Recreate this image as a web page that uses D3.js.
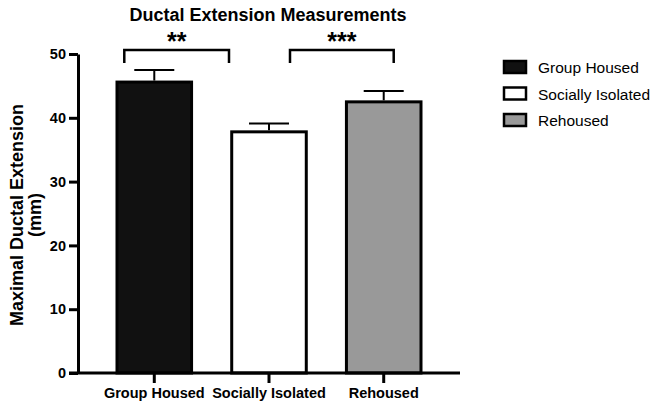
<!DOCTYPE html>
<html><head><meta charset="utf-8">
<script src="https://cdn.jsdelivr.net/npm/d3@7"></script>
<style>body{margin:0;background:#fff}svg{display:block;font-family:"Liberation Sans",Arial,sans-serif}</style>
</head><body><svg id="c" width="650" height="404"></svg>
<script>
const categories = ["Group Housed", "Socially Isolated", "Rehoused"];
const means = [45.6, 37.8, 42.5];
const sems = [1.9, 1.3, 1.7];
const fills = ["#111111", "#ffffff", "#999999"];
const yTicks = [0, 10, 20, 30, 40, 50];
const comparisons = [
  {from: 0, to: 1, label: "**"},
  {from: 1, to: 2, label: "***"}
];

const svg = d3.select("#c");
const x = d3.scaleBand().domain(categories).range([78, 460]).paddingInner(0.35).paddingOuter(0.34);
const y = d3.scaleLinear().domain([0, 50]).range([373, 54]);

// bars
svg.append("g").selectAll("rect").data(categories).join("rect")
  .attr("x", d => x(d)).attr("width", x.bandwidth())
  .attr("y", (d, i) => y(means[i])).attr("height", (d, i) => y(0) - y(means[i]))
  .attr("fill", (d, i) => fills[i]).attr("stroke", "#000").attr("stroke-width", 3);

// error bars
const eb = svg.append("g").attr("stroke", "#000").attr("stroke-width", 2);
categories.forEach((d, i) => {
  const cx = x(d) + x.bandwidth() / 2;
  eb.append("line").attr("x1", cx).attr("x2", cx).attr("y1", y(means[i]) - 1.5).attr("y2", y(means[i] + sems[i]));
  eb.append("line").attr("x1", cx - 20).attr("x2", cx + 20).attr("y1", y(means[i] + sems[i])).attr("y2", y(means[i] + sems[i]));
});

// axes
const yAxis = svg.append("g").attr("transform", "translate(78,0)")
  .call(d3.axisLeft(y).tickValues(yTicks).tickSize(9).tickSizeOuter(0).tickPadding(3));
const xAxis = svg.append("g").attr("transform", "translate(0,373)")
  .call(d3.axisBottom(x).tickSize(10).tickSizeOuter(0).tickPadding(5));
[yAxis, xAxis].forEach(g => {
  g.select(".domain").attr("stroke", "#000").attr("stroke-width", 3);
  g.selectAll(".tick line").attr("stroke", "#000").attr("stroke-width", 3);
  g.selectAll("text").attr("fill", "#000").attr("font-size", 14).attr("font-weight", "bold")
    .attr("font-family", "Liberation Sans, Arial, sans-serif");
});
yAxis.selectAll(".tick text").attr("font-size", 14.5);
xAxis.select(".domain").attr("d", "M69,0H460");
xAxis.selectAll(".tick text").attr("y", 25).attr("dy", 0).attr("font-size", 14.5);

// y label
const yl = svg.append("text").attr("transform", "translate(23,215) rotate(-90)")
  .attr("text-anchor", "middle").attr("font-size", 18).attr("font-weight", "bold");
yl.append("tspan").attr("x", 0).attr("dy", 0).text("Maximal Ductal Extension");
yl.append("tspan").attr("x", 0).attr("dy", 18).text("(mm)");

// title
svg.append("text").attr("x", 268).attr("y", 21).attr("text-anchor", "middle")
  .attr("font-size", 18).attr("font-weight", "bold").text("Ductal Extension Measurements");

// significance brackets
const offs = [[-30, -40], [21, 10]];
comparisons.forEach((c, k) => {
  const x1 = x(categories[c.from]) + x.bandwidth() / 2 + offs[k][0];
  const x2 = x(categories[c.to]) + x.bandwidth() / 2 + offs[k][1];
  svg.append("path").attr("d", `M${x1},63V50H${x2}V63`).attr("fill", "none")
    .attr("stroke", "#000").attr("stroke-width", 2.5);
  svg.append("text").attr("x", (x1 + x2) / 2).attr("y", 50).attr("text-anchor", "middle")
    .attr("font-size", 25).attr("font-weight", "bold").text(c.label);
});

// legend
const lg = svg.append("g").attr("transform", "translate(504,61)");
categories.forEach((d, i) => {
  const g = lg.append("g").attr("transform", `translate(0,${i * 26.5})`);
  g.append("rect").attr("x", 0).attr("y", 0).attr("width", 22).attr("height", 12)
    .attr("fill", fills[i]).attr("stroke", "#000").attr("stroke-width", 2.5);
  g.append("text").attr("x", 34).attr("y", 12).attr("font-size", 15.5).text(d);
});
</script></body></html>
